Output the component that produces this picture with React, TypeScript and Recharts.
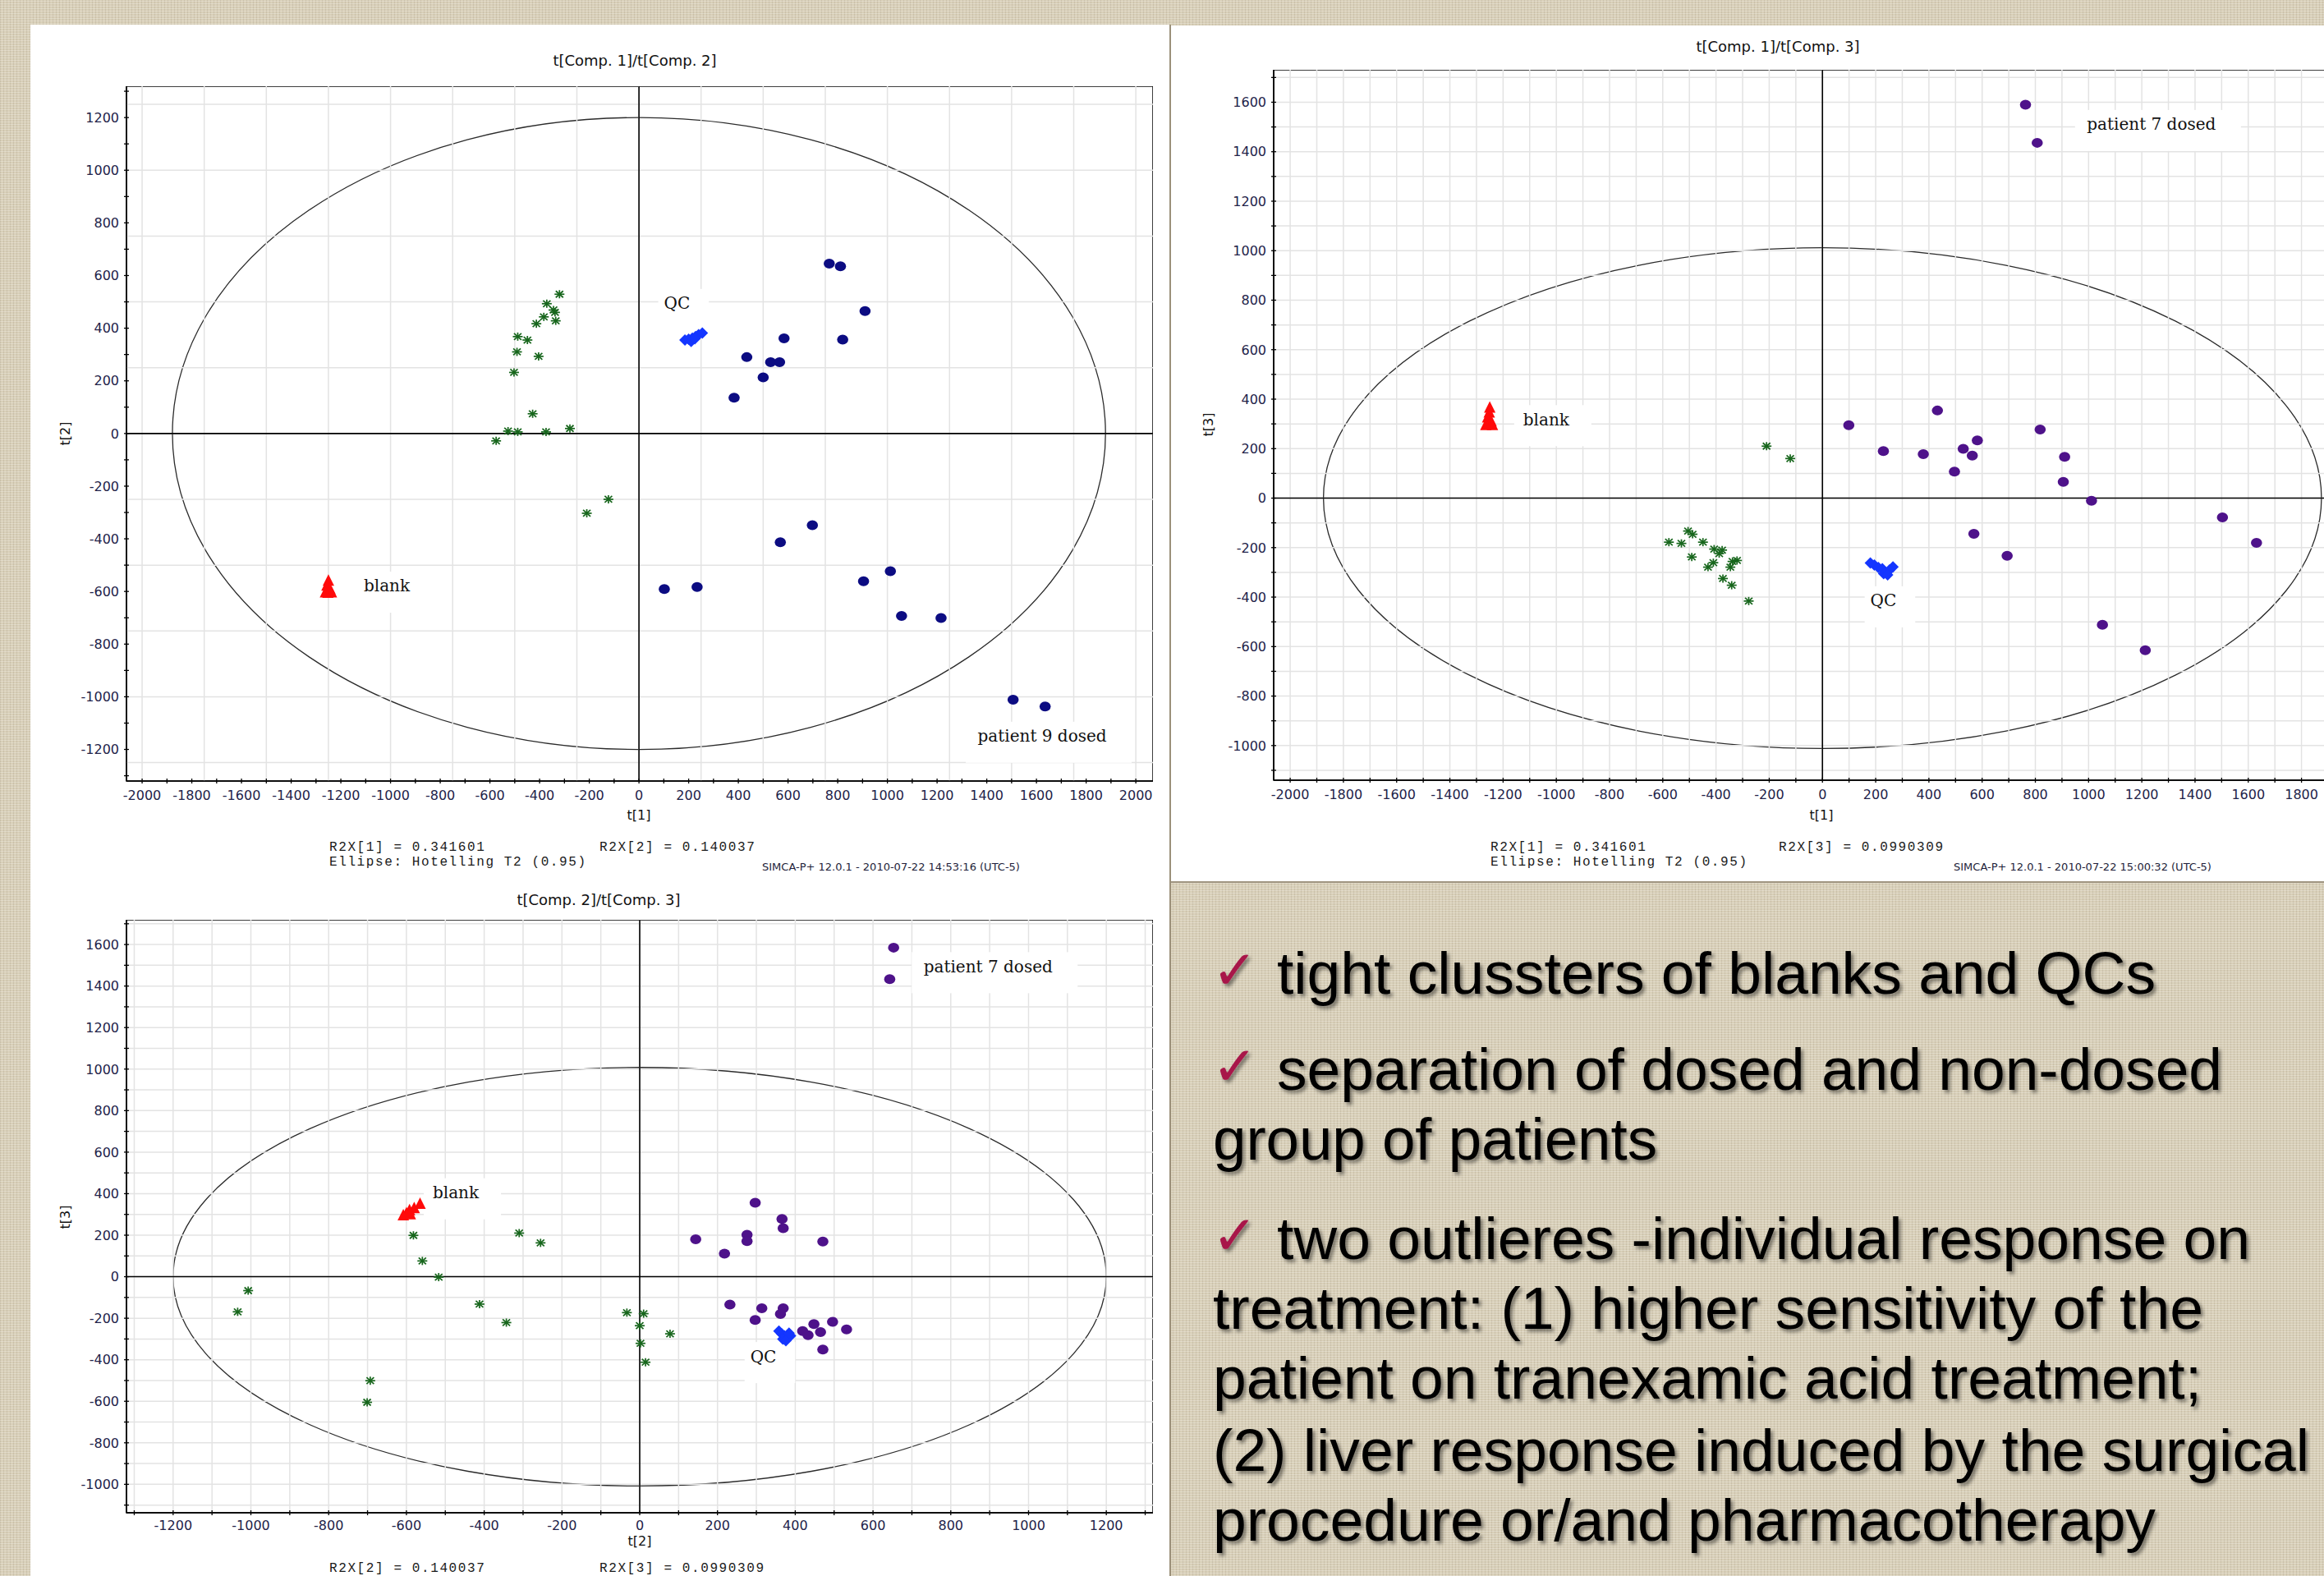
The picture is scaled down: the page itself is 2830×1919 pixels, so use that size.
import React from "react";
import { ReferenceArea, ReferenceDot, ReferenceLine, Scatter, ScatterChart, XAxis, YAxis } from "recharts";

type Pt = { x: number; y: number };

// ---- t[1] / t[2] ----
const green12: Pt[] = [
  { x: -320, y: 529 }, { x: -371, y: 493 }, { x: -344, y: 469 }, { x: -338, y: 460 },
  { x: -383, y: 443 }, { x: -335, y: 428 }, { x: -413, y: 417 }, { x: -488, y: 368 },
  { x: -449, y: 355 }, { x: -491, y: 310 }, { x: -404, y: 293 }, { x: -503, y: 232 },
  { x: -428, y: 75 }, { x: -527, y: 9 }, { x: -488, y: 6 }, { x: -575, y: -28 },
  { x: -374, y: 6 }, { x: -278, y: 19 }, { x: -123, y: -250 }, { x: -210, y: -303 },
];
const blank12: Pt[] = [
  { x: -1250, y: -560 }, { x: -1256, y: -578 }, { x: -1244, y: -592 },
  { x: -1252, y: -606 }, { x: -1238, y: -604 }, { x: -1262, y: -604 },
];
const qc12: Pt[] = [
  { x: 185, y: 355 }, { x: 200, y: 358 }, { x: 215, y: 362 }, { x: 228, y: 368 },
  { x: 240, y: 375 }, { x: 255, y: 382 }, { x: 210, y: 350 }, { x: 225, y: 360 },
];
const dosed12: Pt[] = [
  { x: 766, y: 645 }, { x: 811, y: 635 }, { x: 910, y: 465 }, { x: 584, y: 361 },
  { x: 820, y: 357 }, { x: 434, y: 290 }, { x: 530, y: 271 }, { x: 566, y: 271 },
  { x: 500, y: 213 }, { x: 383, y: 136 }, { x: 698, y: -348 }, { x: 569, y: -413 },
  { x: 102, y: -591 }, { x: 234, y: -583 }, { x: 904, y: -561 }, { x: 1012, y: -523 },
  { x: 1057, y: -693 }, { x: 1216, y: -701 }, { x: 1506, y: -1011 }, { x: 1635, y: -1037 },
];

// ---- t[1] / t[3] ----
const green13: Pt[] = [
  { x: -210, y: 210 }, { x: -121, y: 160 }, { x: -505, y: -133 }, { x: -488, y: -146 },
  { x: -577, y: -178 }, { x: -530, y: -183 }, { x: -449, y: -178 }, { x: -407, y: -206 },
  { x: -377, y: -210 }, { x: -388, y: -224 }, { x: -491, y: -238 }, { x: -410, y: -261 },
  { x: -338, y: -256 }, { x: -321, y: -252 }, { x: -430, y: -279 }, { x: -346, y: -279 },
  { x: -374, y: -325 }, { x: -341, y: -352 }, { x: -277, y: -416 },
];
const blank13: Pt[] = [
  { x: -1250, y: 365 }, { x: -1252, y: 345 }, { x: -1258, y: 325 },
  { x: -1245, y: 310 }, { x: -1240, y: 295 }, { x: -1265, y: 295 },
];
const qc13: Pt[] = [
  { x: 180, y: -262 }, { x: 195, y: -270 }, { x: 210, y: -280 }, { x: 225, y: -285 },
  { x: 238, y: -300 }, { x: 252, y: -290 }, { x: 265, y: -278 }, { x: 230, y: -305 },
  { x: 245, y: -310 },
];
const dosed13: Pt[] = [
  { x: 763, y: 1590 }, { x: 807, y: 1436 }, { x: 432, y: 354 }, { x: 99, y: 295 },
  { x: 818, y: 277 }, { x: 582, y: 233 }, { x: 229, y: 190 }, { x: 379, y: 178 },
  { x: 529, y: 199 }, { x: 563, y: 172 }, { x: 910, y: 167 }, { x: 496, y: 107 },
  { x: 905, y: 66 }, { x: 1011, y: -11 }, { x: 1503, y: -78 }, { x: 1631, y: -181 },
  { x: 569, y: -144 }, { x: 694, y: -233 }, { x: 1052, y: -512 }, { x: 1213, y: -615 },
];

// ---- t[2] / t[3] ----
const green23: Pt[] = [
  { x: -1007, y: -67 }, { x: -1034, y: -169 }, { x: -582, y: 199 }, { x: -559, y: 76 },
  { x: -517, y: -2 }, { x: -310, y: 210 }, { x: -255, y: 163 }, { x: -412, y: -132 },
  { x: -343, y: -221 }, { x: -33, y: -173 }, { x: 10, y: -178 }, { x: 0, y: -236 },
  { x: 2, y: -321 }, { x: 15, y: -412 }, { x: 78, y: -275 }, { x: -693, y: -501 },
  { x: -701, y: -605 },
];
const blank23: Pt[] = [
  { x: -565, y: 350 }, { x: -580, y: 330 }, { x: -592, y: 320 },
  { x: -600, y: 305 }, { x: -608, y: 295 }, { x: -590, y: 300 },
];
const qc23: Pt[] = [
  { x: 358, y: -262 }, { x: 365, y: -275 }, { x: 372, y: -285 }, { x: 380, y: -295 },
  { x: 388, y: -285 }, { x: 368, y: -300 }, { x: 376, y: -308 }, { x: 384, y: -272 },
];
const dosed23: Pt[] = [
  { x: 653, y: 1585 }, { x: 643, y: 1433 }, { x: 297, y: 356 }, { x: 366, y: 278 },
  { x: 369, y: 234 }, { x: 144, y: 180 }, { x: 276, y: 202 }, { x: 276, y: 171 },
  { x: 218, y: 111 }, { x: 471, y: 169 }, { x: 232, y: -134 }, { x: 314, y: -152 },
  { x: 369, y: -152 }, { x: 362, y: -180 }, { x: 297, y: -208 }, { x: 419, y: -262 },
  { x: 433, y: -282 }, { x: 465, y: -267 }, { x: 448, y: -228 }, { x: 496, y: -217 },
  { x: 532, y: -254 }, { x: 471, y: -351 },
];

// tick labels
const ticksX1 = [-2000, -1800, -1600, -1400, -1200, -1000, -800, -600, -400, -200, 0, 200, 400, 600, 800, 1000, 1200, 1400, 1600, 1800, 2000];
const ticksY2 = [-1200, -1000, -800, -600, -400, -200, 0, 200, 400, 600, 800, 1000, 1200];
const ticksX1b = [-2000, -1800, -1600, -1400, -1200, -1000, -800, -600, -400, -200, 0, 200, 400, 600, 800, 1000, 1200, 1400, 1600, 1800];
const ticksY3 = [-1000, -800, -600, -400, -200, 0, 200, 400, 600, 800, 1000, 1200, 1400, 1600];
const ticksX2 = [-1200, -1000, -800, -600, -400, -200, 0, 200, 400, 600, 800, 1000, 1200];
const grid250X = [-2000, -1750, -1500, -1250, -1000, -750, -500, -250, 0, 250, 500, 750, 1000, 1250, 1500, 1750, 2000];
const grid250Y = [-1250, -1000, -750, -500, -250, 0, 250, 500, 750, 1000, 1250];

const GREEN = "#17661c";
const NAVY = "#0c0c82";
const PURPLE = "#4e128a";
const BLUE = "#1436ff";
const RED = "#ff0a0a";
const TICK_SIZE = 3;
const SANS = "'DejaVu Sans', Verdana, sans-serif";
const LINEN =
  "repeating-linear-gradient(0deg, rgba(255,255,255,0.25) 0px, rgba(255,255,255,0.25) 1px, transparent 1px, transparent 3px), repeating-linear-gradient(90deg, rgba(110,95,70,0.14) 0px, rgba(110,95,70,0.14) 1px, transparent 1px, transparent 4px), #d8cfb8";

function withMinor(major: number[], domain: [number, number]) {
  const all = new Set<number>();
  major.forEach((v) => [v - 100, v, v + 100].forEach((t) => all.add(t)));
  return [...all].filter((t) => t >= domain[0] && t <= domain[1]).sort((a, b) => a - b);
}

const Star = (p: any) => {
  const { cx, cy } = p;
  return (
    <g stroke={GREEN} strokeWidth={1.7}>
      <line x1={cx - 6} y1={cy} x2={cx + 6} y2={cy} />
      <line x1={cx} y1={cy - 5} x2={cx} y2={cy + 5} />
      <line x1={cx - 4.5} y1={cy - 4} x2={cx + 4.5} y2={cy + 4} />
      <line x1={cx - 4.5} y1={cy + 4} x2={cx + 4.5} y2={cy - 4} />
    </g>
  );
};
const dotShape = (color: string) => (p: any) => <ellipse cx={p.cx} cy={p.cy} rx={6.8} ry={6} fill={color} />;
const Diamond = (p: any) => (
  <path d={`M${p.cx},${p.cy - 7}L${p.cx + 7},${p.cy}L${p.cx},${p.cy + 7}L${p.cx - 7},${p.cy}Z`} fill={BLUE} />
);
const Triangle = (p: any) => (
  <path d={`M${p.cx},${p.cy - 8}L${p.cx + 7},${p.cy + 6}L${p.cx - 7},${p.cy + 6}Z`} fill={RED} />
);

type Anno = { x: number; y: number; text: string };

type PlotCfg = {
  left: number;
  top: number;
  plotW: number;
  plotH: number;
  xDomain: [number, number];
  yDomain: [number, number];
  xMajor: number[];
  yMajor: number[];
  gridX: number[] | null;
  gridY: number[] | null;
  ellipse: [number, number];
  xMargin: number;
  green: Pt[];
  blank: Pt[];
  qc: Pt[];
  dosed: Pt[];
  dosedColor: string;
  annos: Anno[];
};

const Y_AXIS_W = 90;
const X_AXIS_H = 60;

function Plot({ c }: { c: PlotCfg }) {
  const xt = withMinor(c.xMajor, c.xDomain);
  const yt = withMinor(c.yMajor, c.yDomain);
  const gx = c.gridX ?? xt;
  const gy = c.gridY ?? yt;
  const yTick = (p: any) => {
    const ax = p.x + TICK_SIZE + 6;
    return (
      <g>
        <line x1={ax - 3} x2={ax + 3} y1={p.y} y2={p.y} stroke="#000" strokeWidth={1.3} />
        {c.yMajor.includes(p.payload.value) && (
          <text x={p.x} y={p.y} dy="0.36em" textAnchor="end" fontSize={16} fontFamily={SANS} fill="#23234a">
            {p.payload.value}
          </text>
        )}
      </g>
    );
  };
  const xTick = (p: any) => {
    const ay = p.y - TICK_SIZE - c.xMargin;
    return (
      <g>
        <line x1={p.x} x2={p.x} y1={ay - 3} y2={ay + 3} stroke="#000" strokeWidth={1.3} />
        {c.xMajor.includes(p.payload.value) && (
          <text x={p.x} y={p.y} dy="0.72em" textAnchor="middle" fontSize={16} fontFamily={SANS} fill="#23234a">
            {p.payload.value}
          </text>
        )}
      </g>
    );
  };
  return (
    <div style={{ position: "absolute", left: c.left - Y_AXIS_W, top: c.top }}>
      <ScatterChart
        width={Y_AXIS_W + c.plotW}
        height={c.plotH + X_AXIS_H}
        margin={{ top: 0, right: 0, bottom: 0, left: 0 }}
      >
        <XAxis
          type="number"
          dataKey="x"
          domain={c.xDomain}
          allowDataOverflow
          ticks={xt}
          interval={0}
          tick={xTick}
          tickLine={false}
          tickSize={TICK_SIZE}
          tickMargin={c.xMargin}
          height={X_AXIS_H}
          axisLine={{ stroke: "#000", strokeWidth: 1.5 }}
        />
        <YAxis
          type="number"
          dataKey="y"
          domain={c.yDomain}
          allowDataOverflow
          ticks={yt}
          interval={0}
          tick={yTick}
          tickLine={false}
          tickSize={TICK_SIZE}
          tickMargin={6}
          width={Y_AXIS_W}
          axisLine={{ stroke: "#000", strokeWidth: 1.5 }}
        />
        {gx.map((v) => (
          <ReferenceLine key={"gx" + v} x={v} stroke="#e3e3e3" strokeWidth={1.5} />
        ))}
        {gy.map((v) => (
          <ReferenceLine key={"gy" + v} y={v} stroke="#e3e3e3" strokeWidth={1.5} />
        ))}
        {c.annos.map((a) => (
          <ReferenceDot
            key={a.text}
            x={a.x}
            y={a.y}
            r={1}
            shape={(p: any) => {
              const w = a.text.length * 10.8;
              return <rect x={p.cx - w / 2 - 12} y={p.cy - 18} width={w + 40} height={50} fill="#fff" />;
            }}
          />
        ))}
        <ReferenceArea
          x1={c.xDomain[0]}
          x2={c.xDomain[1]}
          y1={c.yDomain[0]}
          y2={c.yDomain[1]}
          fill="none"
          stroke="#000"
          strokeWidth={1.5}
          fillOpacity={0}
        />
        <ReferenceLine x={0} stroke="#000" strokeWidth={1.6} />
        <ReferenceLine y={0} stroke="#000" strokeWidth={1.6} />
        <ReferenceArea
          x1={-c.ellipse[0]}
          x2={c.ellipse[0]}
          y1={-c.ellipse[1]}
          y2={c.ellipse[1]}
          shape={(p: any) => (
            <ellipse
              cx={p.x + p.width / 2}
              cy={p.y + p.height / 2}
              rx={Math.abs(p.width) / 2}
              ry={Math.abs(p.height) / 2}
              fill="none"
              stroke="#2b2b2b"
              strokeWidth={1.3}
            />
          )}
        />
        {c.annos.map((a) => (
          <ReferenceDot
            key={"t" + a.text}
            x={a.x}
            y={a.y}
            r={1}
            shape={(p: any) => (
              <text
                x={p.cx}
                y={p.cy}
                dy="0.32em"
                textAnchor="middle"
                fontSize={20}
                fontFamily="'DejaVu Serif', serif"
                fill="#111"
              >
                {a.text}
              </text>
            )}
          />
        ))}
        <Scatter data={c.green} shape={Star} isAnimationActive={false} />
        <Scatter data={c.dosed} shape={dotShape(c.dosedColor)} isAnimationActive={false} />
        <Scatter data={c.qc} shape={Diamond} isAnimationActive={false} />
        <Scatter data={c.blank} shape={Triangle} isAnimationActive={false} />
      </ScatterChart>
    </div>
  );
}

const plot12: PlotCfg = {
  left: 154, top: 105, plotW: 1250, plotH: 846,
  xDomain: [-2063, 2069], yDomain: [-1320, 1319],
  xMajor: ticksX1, yMajor: ticksY2, gridX: grid250X, gridY: grid250Y,
  ellipse: [1878, 1200], xMargin: 8,
  green: green12, blank: blank12, qc: qc12, dosed: dosed12, dosedColor: NAVY,
  annos: [
    { x: 153, y: 493, text: "QC" },
    { x: -1015, y: -581, text: "blank" },
    { x: 1623, y: -1151, text: "patient 9 dosed" },
  ],
};
const plot13: PlotCfg = {
  left: 1551, top: 85, plotW: 1284, plotH: 865,
  xDomain: [-2062, 1900], yDomain: [-1140, 1731],
  xMajor: ticksX1b, yMajor: ticksY3, gridX: null, gridY: null,
  ellipse: [1875, 1012], xMargin: 8,
  green: green13, blank: blank13, qc: qc13, dosed: dosed13, dosedColor: PURPLE,
  annos: [
    { x: 1236, y: 1509, text: "patient 7 dosed" },
    { x: -1038, y: 316, text: "blank" },
    { x: 229, y: -416, text: "QC" },
  ],
};
const plot23: PlotCfg = {
  left: 154, top: 1120, plotW: 1250, plotH: 722,
  xDomain: [-1320, 1320], yDomain: [-1137, 1719],
  xMajor: ticksX2, yMajor: ticksY3, gridX: null, gridY: null,
  ellipse: [1200, 1008], xMargin: 6,
  green: green23, blank: blank23, qc: qc23, dosed: dosed23, dosedColor: PURPLE,
  annos: [
    { x: 896, y: 1492, text: "patient 7 dosed" },
    { x: -473, y: 403, text: "blank" },
    { x: 318, y: -386, text: "QC" },
  ],
};

const centered = (x: number, y: number, size: number, text: string, rotate = false): React.ReactNode => (
  <div
    key={text + x + y}
    style={{
      position: "absolute",
      left: x,
      top: y,
      transform: `translate(-50%, -50%)${rotate ? " rotate(-90deg)" : ""}`,
      fontFamily: SANS,
      fontSize: size,
      color: "#111",
      whiteSpace: "nowrap",
      lineHeight: 1,
    }}
  >
    {text}
  </div>
);

const mono = (x: number, y: number, text: string): React.ReactNode => (
  <div
    key={text + x + y}
    style={{
      position: "absolute",
      left: x,
      top: y - 9,
      fontFamily: "'Liberation Mono', 'Courier New', monospace",
      fontSize: 16,
      letterSpacing: 1.6,
      color: "#1a1a1a",
      whiteSpace: "pre",
      lineHeight: 1,
    }}
  >
    {text}
  </div>
);

const small = (x: number, y: number, text: string): React.ReactNode => (
  <div
    key={text}
    style={{ position: "absolute", left: x, top: y - 7, fontFamily: SANS, fontSize: 13, color: "#1e1e3a", whiteSpace: "nowrap", lineHeight: 1 }}
  >
    {text}
  </div>
);

const bullets = [
  { text: "tight clussters of blanks and QCs", check: true },
  { text: "separation of dosed and non-dosed", check: true },
  { text: "group of patients", check: false },
  { text: "two outlieres -individual response on", check: true },
  { text: "treatment: (1) higher sensitivity of the", check: false },
  { text: "patient on tranexamic acid treatment;", check: false },
  { text: "(2) liver response induced by the surgical", check: false },
  { text: "procedure or/and pharmacotherapy", check: false },
];
const bulletLayout = [
  { y: 1210, right: 2625 },
  { y: 1327, right: 2706 },
  { y: 1412, right: 2018 },
  { y: 1533, right: 2740 },
  { y: 1618, right: 2683 },
  { y: 1703, right: 2681 },
  { y: 1791, right: 2812 },
  { y: 1876, right: 2625 },
];

export default function App() {
  return (
    <div style={{ position: "absolute", left: 0, top: 0, width: 2830, height: 1919, overflow: "hidden", background: LINEN }}>
      <div style={{ position: "absolute", left: 37, top: 30, width: 1387, height: 1889, background: "#fff", borderRight: "2px solid #9b907a" }} />
      <div style={{ position: "absolute", left: 1426, top: 31, width: 1404, height: 1042, background: "#fff", borderBottom: "2px solid #a09580" }} />

      <Plot c={plot12} />
      <Plot c={plot13} />
      <Plot c={plot23} />

      {centered(773, 74, 18, "t[Comp. 1]/t[Comp. 2]")}
      {centered(778, 993, 16, "t[1]")}
      {centered(80, 528, 16, "t[2]", true)}
      {mono(401, 1033, "R2X[1] = 0.341601")}
      {mono(730, 1033, "R2X[2] = 0.140037")}
      {mono(401, 1051, "Ellipse: Hotelling T2 (0.95)")}
      {small(928, 1056, "SIMCA-P+ 12.0.1 - 2010-07-22 14:53:16 (UTC-5)")}

      {centered(2165, 57, 18, "t[Comp. 1]/t[Comp. 3]")}
      {centered(2218, 993, 16, "t[1]")}
      {centered(1472, 517, 16, "t[3]", true)}
      {mono(1815, 1033, "R2X[1] = 0.341601")}
      {mono(2166, 1033, "R2X[3] = 0.0990309")}
      {mono(1815, 1051, "Ellipse: Hotelling T2 (0.95)")}
      {small(2379, 1056, "SIMCA-P+ 12.0.1 - 2010-07-22 15:00:32 (UTC-5)")}

      {centered(729, 1096, 18, "t[Comp. 2]/t[Comp. 3]")}
      {centered(779, 1877, 16, "t[2]")}
      {centered(80, 1482, 16, "t[3]", true)}
      {mono(401, 1911, "R2X[2] = 0.140037")}
      {mono(730, 1911, "R2X[3] = 0.0990309")}

      <svg width={2830} height={1919} style={{ position: "absolute", left: 0, top: 0 }}>
        <defs>
          <filter id="shadow" x="-5%" y="-30%" width="110%" height="160%">
            <feDropShadow dx="3" dy="3.5" stdDeviation="2.2" floodColor="#000" floodOpacity="0.45" />
          </filter>
        </defs>
        {bullets.map((b, i) => {
          const L = bulletLayout[i];
          const x0 = b.check ? 1555 : 1477;
          return (
            <g key={b.text} filter="url(#shadow)">
              {b.check && (
                <text x={1476} y={L.y - 6} fontSize={66} fill="#a8164a" fontFamily={SANS}>
                  ✓
                </text>
              )}
              <text
                x={x0}
                y={L.y}
                fontSize={72}
                fontFamily="'Liberation Sans', Arial, sans-serif"
                fill="#050505"
                textLength={L.right - x0}
                lengthAdjust="spacingAndGlyphs"
              >
                {b.text}
              </text>
            </g>
          );
        })}
      </svg>
    </div>
  );
}
